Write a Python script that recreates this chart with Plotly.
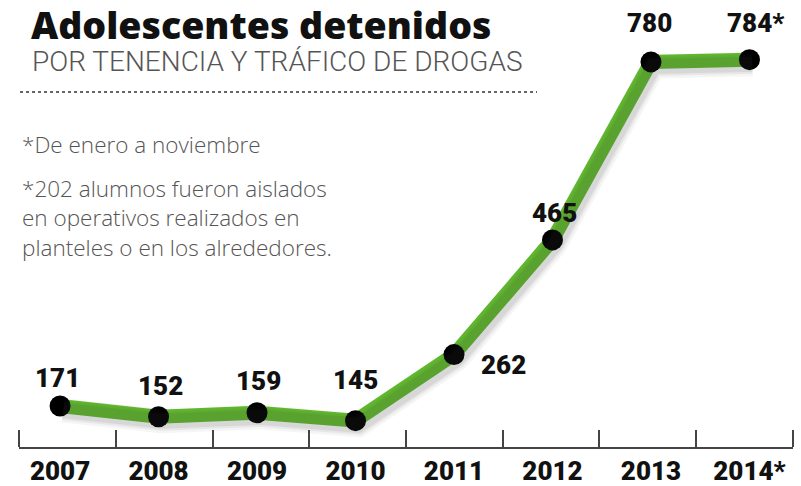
import plotly.graph_objects as go

# Data
years = ["2007", "2008", "2009", "2010", "2011", "2012", "2013", "2014*"]
detenidos = [171, 152, 159, 145, 262, 465, 780, 784]
label_suffix = ["", "", "", "", "", "", "", "*"]

# Label offsets (px) relative to each point
label_dx = [-3, 2, 1, 0, 49, 2, -1, 7]
label_dy = [28, 31, 32, 41, -10, 27, 39, 37]

note_fecha = "*De enero a noviembre"
note_alumnos = [
    "*202 alumnos fueron aislados",
    "en operativos realizados en",
    "planteles o en los alrededores.",
]

W, H = 801, 486
L, R, T, B = 19, 8, 0, 39
PW, PH = W - L - R, H - T - B

X_RANGE = [-0.417, 7.442]
Y_RANGE = [98.4, 889.6]

GREEN = "#62bd2f"
HEAVY = "Roboto, Arial, sans-serif"


def px(x):
    return (x - L) / PW


def py(y):
    return (H - B - y) / PH


xs = list(range(len(years)))

fig = go.Figure()

# soft drop shadow under the line (same data on slightly shifted axes)
for w, a in [(24, 0.05), (19, 0.07), (15, 0.09)]:
    fig.add_trace(go.Scatter(
        x=xs, y=detenidos, mode="lines", xaxis="x2", yaxis="y2",
        line=dict(color=f"rgba(60,60,60,{a})", width=w),
        hoverinfo="skip", showlegend=False,
    ))

fig.add_trace(go.Scatter(
    x=xs, y=detenidos, mode="lines+markers",
    line=dict(color=GREEN, width=14),
    marker=dict(color="black", size=21, line=dict(width=0)),
    showlegend=False,
))

# value labels
for i, (v, s) in enumerate(zip(detenidos, label_suffix)):
    fig.add_annotation(
        x=i, y=v, text=f"{v}{s}", showarrow=False,
        xshift=label_dx[i], yshift=label_dy[i],
        font=dict(family=HEAVY, size=26, color="#111", weight=900),
    )

# headline and notes
fig.add_annotation(
    xref="paper", yref="paper", x=px(30), y=py(25), xanchor="left", yanchor="middle",
    text="Adolescentes detenidos", showarrow=False, borderpad=0,
    font=dict(family="Open Sans, Roboto, sans-serif", size=37.5, color="#111", weight=800),
)
fig.add_annotation(
    xref="paper", yref="paper", x=px(31), y=py(62), xanchor="left", yanchor="middle",
    text="POR TENENCIA Y TRÁFICO DE DROGAS", showarrow=False, borderpad=0,
    font=dict(family="Roboto, sans-serif", size=28, color="#555", weight=300),
)
fig.add_shape(
    type="line", xref="paper", yref="paper",
    x0=px(20), x1=px(537), y0=py(92), y1=py(92),
    line=dict(color="#666", width=2, dash="dot"),
)

notes_font = dict(family="Open Sans, Roboto, sans-serif", size=22.5, color="#555", weight=300)
fig.add_annotation(
    xref="paper", yref="paper", x=px(20), y=py(144), xanchor="left", yanchor="middle",
    text=note_fecha, showarrow=False, font=notes_font,
)
fig.add_annotation(
    xref="paper", yref="paper", x=px(20), y=py(217.5), xanchor="left", yanchor="middle",
    text="<br>".join(note_alumnos), align="left", showarrow=False, font=notes_font,
)

fig.update_layout(
    width=W, height=H,
    margin=dict(l=L, r=R, t=T, b=B, autoexpand=False),
    paper_bgcolor="white", plot_bgcolor="white",
    xaxis=dict(
        range=X_RANGE, tickvals=xs, ticktext=years, ticks="",
        showline=True, linecolor="#444", linewidth=2, automargin=False,
        showgrid=False, zeroline=False,
        tickfont=dict(family=HEAVY, size=26, color="#111", weight=900),
        minor=dict(tick0=-0.416, dtick=0.982, ticks="inside", ticklen=17,
                   tickwidth=2, tickcolor="#444", showgrid=False),
    ),
    yaxis=dict(range=Y_RANGE, visible=False, automargin=False),
    xaxis2=dict(range=[X_RANGE[0] - 0.03, X_RANGE[1] - 0.03], overlaying="x",
                visible=False),
    yaxis2=dict(range=[Y_RANGE[0] + 8, Y_RANGE[1] + 8], overlaying="y",
                visible=False),
)

fig.write_html("out.html")
